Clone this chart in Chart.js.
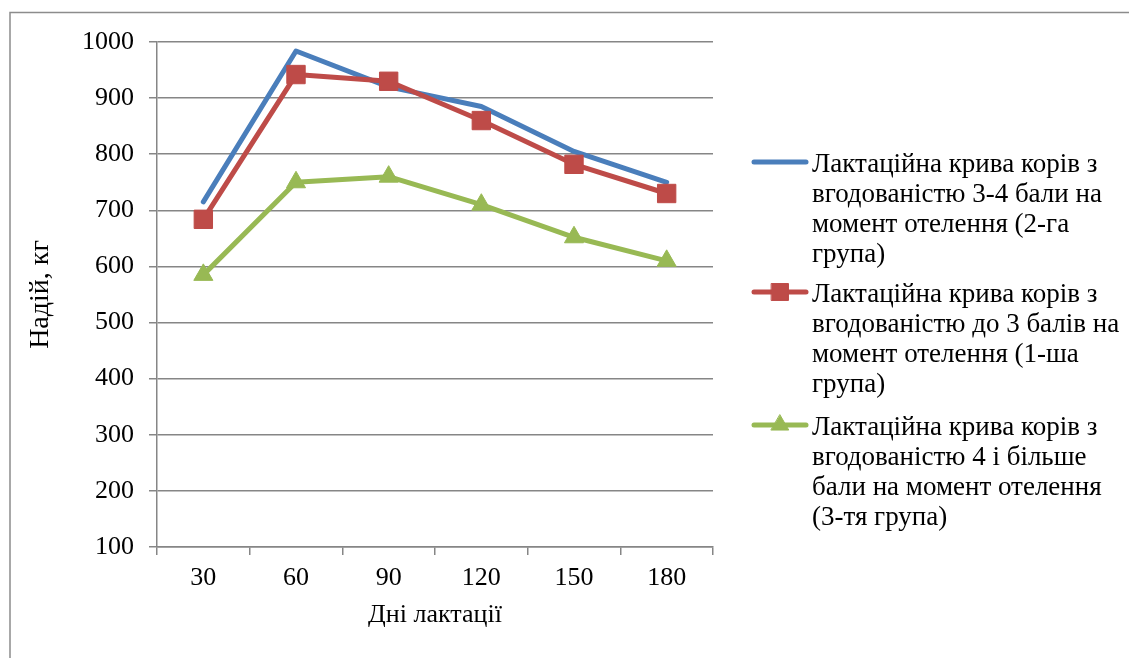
<!DOCTYPE html>
<html>
<head>
<meta charset="utf-8">
<script src="https://cdn.jsdelivr.net/npm/chart.js@4/dist/chart.umd.min.js"></script>
<style>
  html, body { margin: 0; padding: 0; background: #ffffff; }
  #wrap { position: absolute; left: 0; top: 0; width: 1129px; height: 658px; }
</style>
</head>
<body>
<div id="wrap"><canvas id="c" width="1129" height="658"></canvas></div>
<script>
// ---- data ----
const days = ['30', '60', '90', '120', '150', '180'];
const group2Values = [715, 984, 920, 885, 805, 750];   // 3-4 бали (2-га група)
const group1Values = [684, 942, 930, 860, 782, 730];   // до 3 балів (1-ша група)
const group3Values = [585, 750, 760, 710, 652, 610];   // 4 і більше (3-тя група)
const yTicks = [100, 200, 300, 400, 500, 600, 700, 800, 900, 1000];
const legendLines = [
  ['Лактаційна крива корів з', 'вгодованістю 3-4 бали на', 'момент отелення (2-га', 'група)'],
  ['Лактаційна крива корів з', 'вгодованістю до 3 балів на', 'момент отелення (1-ша', 'група)'],
  ['Лактаційна крива корів з', 'вгодованістю 4 і більше', 'бали на момент отелення', '(3-тя група)']
];
const xTitle = 'Дні лактації';
const yTitle = 'Надій, кг';

const FONT = '"Liberation Serif", "Times New Roman", serif';
const BLUE = '#4A7EBB', RED = '#BE4B48', GREEN = '#98B954', GRID = '#868686';

const frameAndLegend = {
  id: 'frameAndLegend',
  afterDraw(chart) {
    const ctx = chart.ctx;
    ctx.save();
    // outer frame
    ctx.strokeStyle = '#8c8c8c';
    ctx.lineWidth = 1.5;
    ctx.beginPath();
    ctx.moveTo(10, 700);
    ctx.lineTo(10, 12.5);
    ctx.lineTo(1140, 12.5);
    ctx.stroke();
    // legend
    const starts = [165, 295, 428];
    const lh = 30;
    ctx.font = '27px ' + FONT;
    ctx.textBaseline = 'middle';
    chart.data.datasets.forEach((ds, i) => {
      const y0 = starts[i];
      const ly = y0 - 3;
      ctx.strokeStyle = ds.borderColor;
      ctx.lineWidth = 5;
      ctx.lineCap = 'round';
      ctx.beginPath();
      ctx.moveTo(754, ly);
      ctx.lineTo(806, ly);
      ctx.stroke();
      if (ds.pointRadius > 0) {
        ctx.fillStyle = ds.pointBackgroundColor;
        ctx.strokeStyle = ds.pointBackgroundColor;
        ctx.lineWidth = 1;
        Chart.helpers.drawPoint(ctx, {pointStyle: ds.pointStyle, rotation: 0, borderWidth: 1, radius: ds.pointRadius * 0.92}, 780, ly);
      }
      ctx.fillStyle = '#000';
      legendLines[i].forEach((t, k) => {
        ctx.fillText(t, 812, y0 + k * lh);
      });
    });
    ctx.restore();
  }
};

new Chart(document.getElementById('c'), {
  type: 'line',
  data: {
    labels: days,
    datasets: [
      { label: legendLines[0].join(' '), data: group2Values, borderColor: BLUE, backgroundColor: BLUE,
        borderWidth: 5, pointRadius: 0, pointHoverRadius: 0, tension: 0, order: 2, borderCapStyle: 'round', borderJoinStyle: 'round' },
      { label: legendLines[1].join(' '), data: group1Values, borderColor: RED, backgroundColor: RED,
        borderWidth: 5, pointStyle: 'rect', pointRadius: 13, pointBackgroundColor: RED, pointBorderColor: RED,
        pointBorderWidth: 1, tension: 0, order: 1, borderJoinStyle: 'round' },
      { label: legendLines[2].join(' '), data: group3Values, borderColor: GREEN, backgroundColor: GREEN,
        borderWidth: 5, pointStyle: 'triangle', pointRadius: 11, pointBackgroundColor: GREEN, pointBorderColor: GREEN,
        pointBorderWidth: 1, tension: 0, order: 0, borderJoinStyle: 'round' }
    ]
  },
  options: {
    responsive: false,
    animation: false,
    devicePixelRatio: 1,
    layout: { padding: { left: 0, top: 42, right: 416, bottom: 0 } },
    plugins: { legend: { display: false }, tooltip: { enabled: false }, title: { display: false } },
    scales: {
      x: {
        type: 'category',
        offset: true,
        grid: { offset: true, drawOnChartArea: false, drawTicks: true, tickLength: 8, color: GRID, lineWidth: 1.5 },
        border: { display: true, color: GRID, width: 1.5 },
        ticks: { color: '#000', font: { family: FONT, size: 26 }, padding: 8, maxRotation: 0 },
        title: { display: true, text: xTitle, color: '#000', font: { family: FONT, size: 26 }, padding: { top: 0, bottom: 27 } },
        afterFit(s) { s.height = 111; }
      },
      y: {
        min: 100, max: 1000,
        afterBuildTicks(s) { s.ticks = yTicks.map(v => ({ value: v })); },
        grid: { color: GRID, lineWidth: 1.5, tickLength: 8, drawTicks: true },
        border: { display: true, color: GRID, width: 1.5 },
        ticks: { color: '#000', font: { family: FONT, size: 26 }, padding: 15, callback: v => String(v) },
        title: { display: true, text: yTitle, color: '#000', font: { family: FONT, size: 28 }, padding: { top: 24, bottom: 0 } },
        afterFit(s) { s.width = 157; }
      }
    }
  },
  plugins: [frameAndLegend]
});
</script>
</body>
</html>
